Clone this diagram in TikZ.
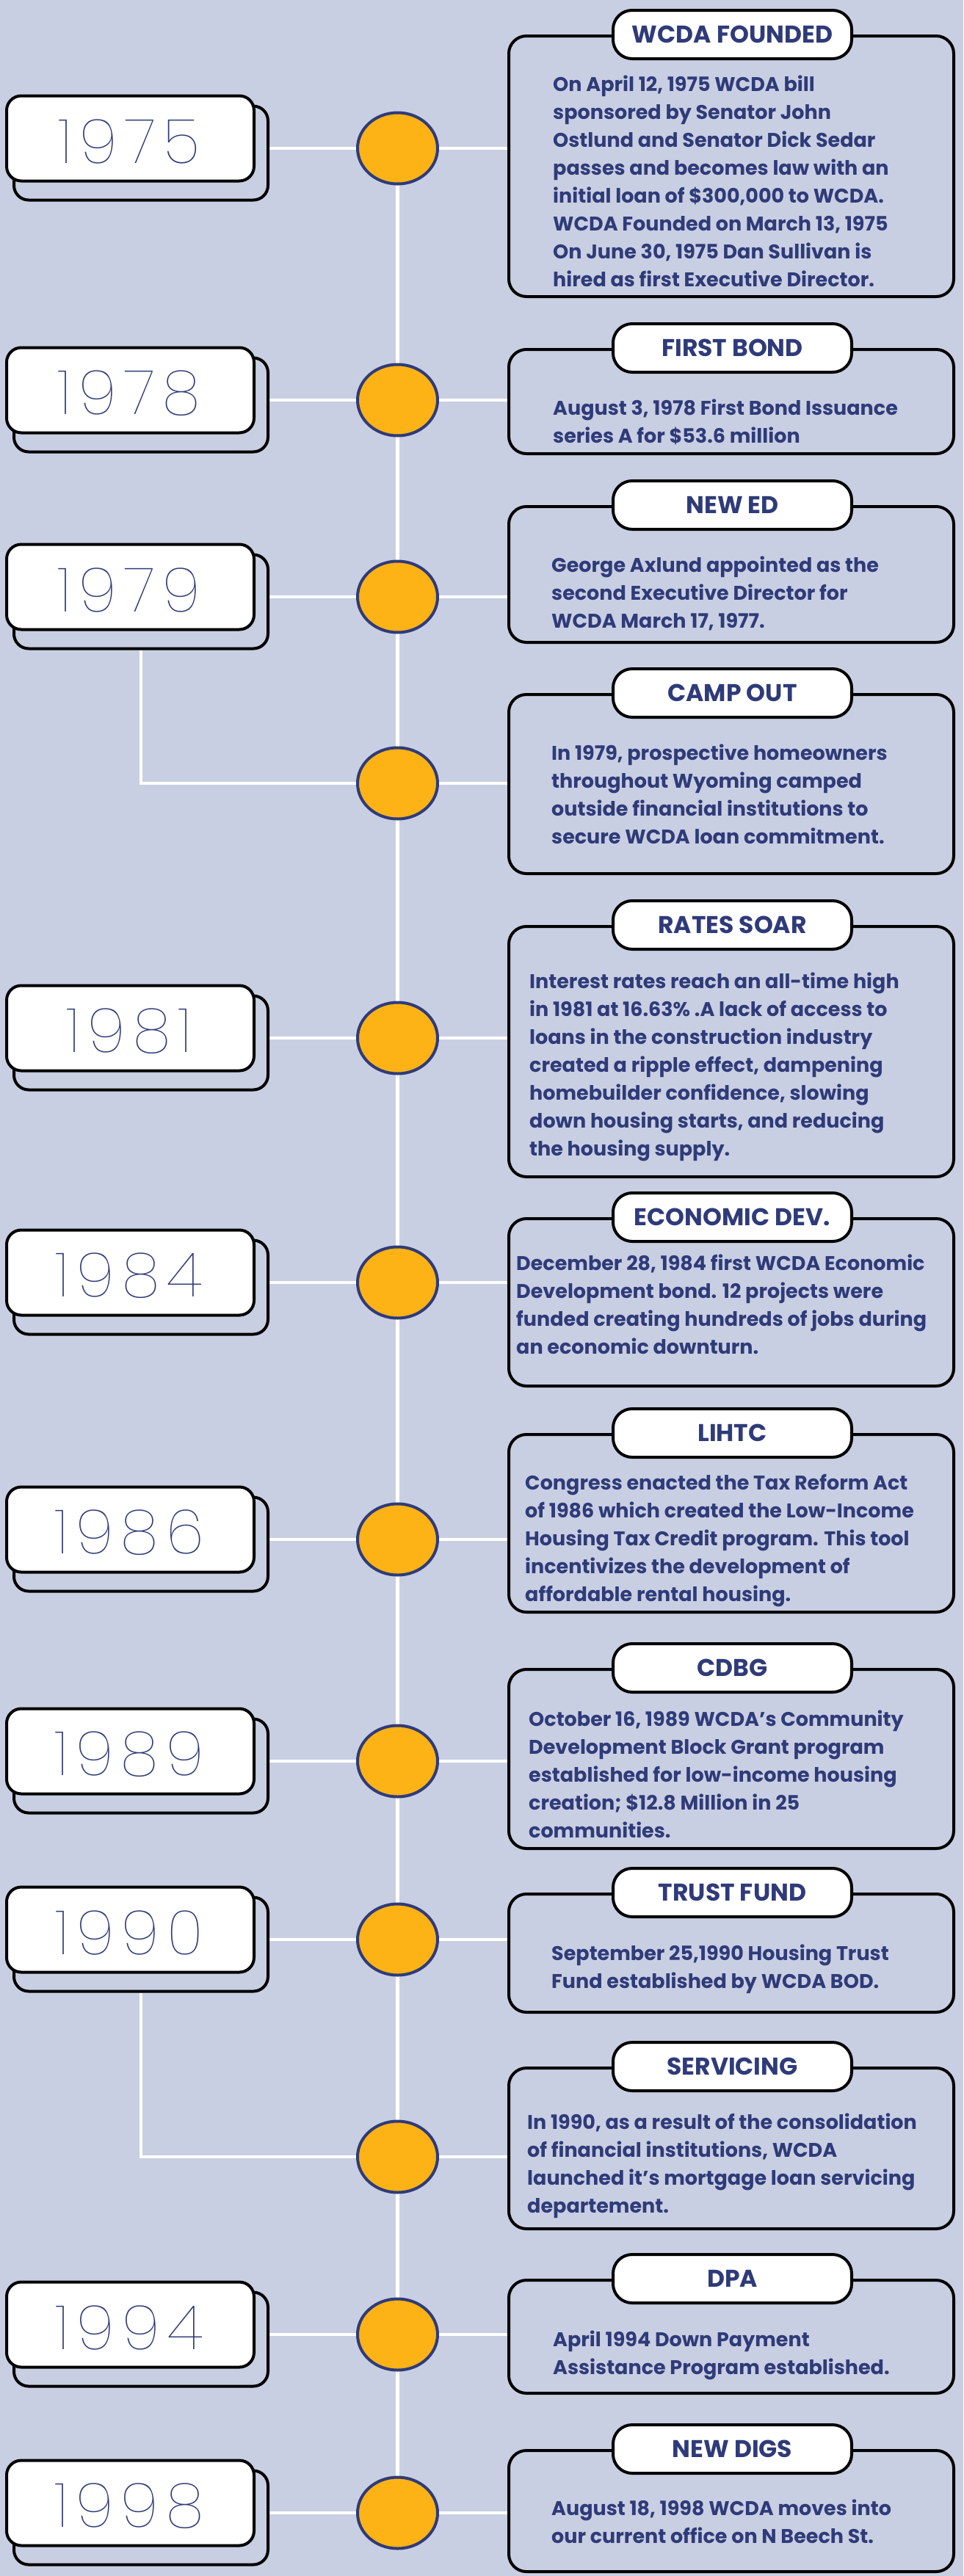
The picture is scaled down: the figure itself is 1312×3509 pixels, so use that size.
\documentclass[tikz,border=0pt]{standalone}
\usepackage{fontspec}
\setmainfont{Poppins}
\newfontfamily\yearfont{Poppins Thin}[LetterSpace=12]
\usetikzlibrary{shapes.geometric}
\definecolor{bgc}{HTML}{C9CFE2}
\definecolor{navy}{HTML}{2F3B79}
\definecolor{gold}{HTML}{FDB316}
\pgfdeclarelayer{bglayer}
\pgfsetlayers{bglayer,main}
\tikzset{
  yearfront/.style={draw=black, line width=4pt, fill=white, rounded corners=20pt, minimum width=337pt, minimum height=116pt, inner sep=0pt},
  yearback/.style={draw=black, line width=4pt, rounded corners=20pt, minimum width=346pt, minimum height=128pt, inner sep=0pt},
  yeartext/.style={inner sep=0pt, text=navy, font=\yearfont\fontsize{84}{84}\selectfont},
  dot/.style={ellipse, draw=navy, line width=4pt, fill=gold, minimum width=109pt, minimum height=97pt, inner sep=0pt},
  card/.style={draw=black, line width=4pt, rounded corners=24pt, minimum width=606pt, inner sep=0pt},
  pill/.style={draw=black, line width=4pt, fill=white, rounded corners=26pt, minimum width=325pt, minimum height=66pt, inner sep=0pt, text=navy, font=\bfseries\fontsize{33}{33}\selectfont},
  body/.style={anchor=west, align=left, inner sep=0pt, text=navy, font=\bfseries\fontsize{27}{38}\selectfont},
  link/.style={draw=white, line width=4.5pt},
}
\newcommand\yearentry[3]{%
  \node[yearback] (yb#1) at (192,#2+6.5) {};
  \node[yearfront] (yf#1) at (177.5,#2-13.5) {};
  \node[yeartext] (yt#1) at (176,#2-9.5) {#3};
}
\newcommand\cardentry[7]{%
  \node[card, minimum height={#3-#2-4}] (k#1) at (996,{(#2+#3)/2}) {};
  \node[pill] (p#1) at (997.5,#2) {#4};
  \node[body] (t#1) at (#5,#6) {\strut #7\strut};
}
\begin{document}
\begin{tikzpicture}[x=1pt,y=-1pt]
\begin{pgfonlayer}{bglayer}
\fill[bgc] (0,0) rectangle (1312,3509);
\end{pgfonlayer}
\useasboundingbox (0,0) rectangle (1312,3509);

% circles
\node[dot] (c1) at (541.5,202) {};
\node[dot] (c2) at (541.5,545) {};
\node[dot] (c3) at (541.5,813) {};
\node[dot] (c4) at (541.5,1067) {};
\node[dot] (c5) at (541.5,1414) {};
\node[dot] (c6) at (541.5,1747) {};
\node[dot] (c7) at (541.5,2097) {};
\node[dot] (c8) at (541.5,2399) {};
\node[dot] (c9) at (541.5,2642) {};
\node[dot] (c10) at (541.5,2938) {};
\node[dot] (c11) at (541.5,3180) {};
\node[dot] (c12) at (541.5,3423) {};

% year boxes
\yearentry{1}{202}{1975}
\yearentry{2}{545}{1978}
\yearentry{3}{813}{1979}
\yearentry{5}{1414}{1981}
\yearentry{6}{1747}{1984}
\yearentry{7}{2097}{1986}
\yearentry{8}{2399}{1989}
\yearentry{9}{2642}{1990}
\yearentry{11}{3180}{1994}
\yearentry{12}{3423}{1998}

% cards
\cardentry{1}{47}{406}{WCDA FOUNDED}{753}{249.5}{On April 12, 1975 WCDA bill\\sponsored by Senator John\\Ostlund and Senator Dick Sedar\\passes and becomes law with an\\initial loan of \$300,000 to WCDA.\\WCDA Founded on March 13, 1975\\On June 30, 1975 Dan Sullivan is\\hired as first Executive Director.}
\cardentry{2}{474}{620}{FIRST BOND}{753}{576.5}{August 3, 1978 First Bond Issuance\\series A for \$53.6 million}
\cardentry{3}{688}{877}{NEW ED}{751}{810}{George Axlund appointed as the\\second Executive Director for\\WCDA March 17, 1977.}
\cardentry{4}{944}{1192}{CAMP OUT}{751}{1084.5}{In 1979, prospective homeowners\\throughout Wyoming camped\\outside financial institutions to\\secure WCDA loan commitment.}
\cardentry{5}{1260}{1605}{RATES SOAR}{721}{1453}{Interest rates reach an all-time high\\in 1981 at 16.63\% .A lack of access to\\loans in the construction industry\\created a ripple effect, dampening\\homebuilder confidence, slowing\\down housing starts, and reducing\\the housing supply.}
\cardentry{6}{1658}{1890}{ECONOMIC DEV.}{703}{1779.5}{December 28, 1984 first WCDA Economic\\Development bond. 12 projects were\\funded creating hundreds of jobs during\\an economic downturn.}
\cardentry{7}{1952}{2198}{LIHTC}{715}{2098}{Congress enacted the Tax Reform Act\\of 1986 which created the Low-Income\\Housing Tax Credit program. This tool\\incentivizes the development of\\affordable rental housing.}
\cardentry{8}{2272}{2520}{CDBG}{720}{2420}{October 16, 1989 WCDA’s Community\\Development Block Grant program\\established for low-income housing\\creation; \$12.8 Million in 25\\communities.}
\cardentry{9}{2578}{2743}{TRUST FUND}{751}{2682}{September 25,1990 Housing Trust\\Fund established by WCDA BOD.}
\cardentry{10}{2815}{3038}{SERVICING}{718}{2949.5}{In 1990, as a result of the consolidation\\of financial institutions, WCDA\\launched it’s mortgage loan servicing\\departement.}
\cardentry{11}{3104}{3262}{DPA}{753}{3207.5}{April 1994 Down Payment\\Assistance Program established.}
\cardentry{12}{3336}{3505}{NEW DIGS}{751}{3437.5}{August 18, 1998 WCDA moves into\\our current office on N Beech St.}

% connectors
\begin{pgfonlayer}{bglayer}
\draw[link] (c1) -- (c12);
\foreach \i in {1,2,3,5,6,7,8,9,11,12}{
  \draw[link] (yb\i.east |- c\i) -- (c\i.west);
}
\foreach \i in {1,...,12}{
  \draw[link] (c\i.east) -- (k\i.west |- c\i);
}
\draw[link] (yb3.south) |- (c4.west);
\draw[link] (yb9.south) |- (c10.west);
\end{pgfonlayer}
\end{tikzpicture}
\end{document}
